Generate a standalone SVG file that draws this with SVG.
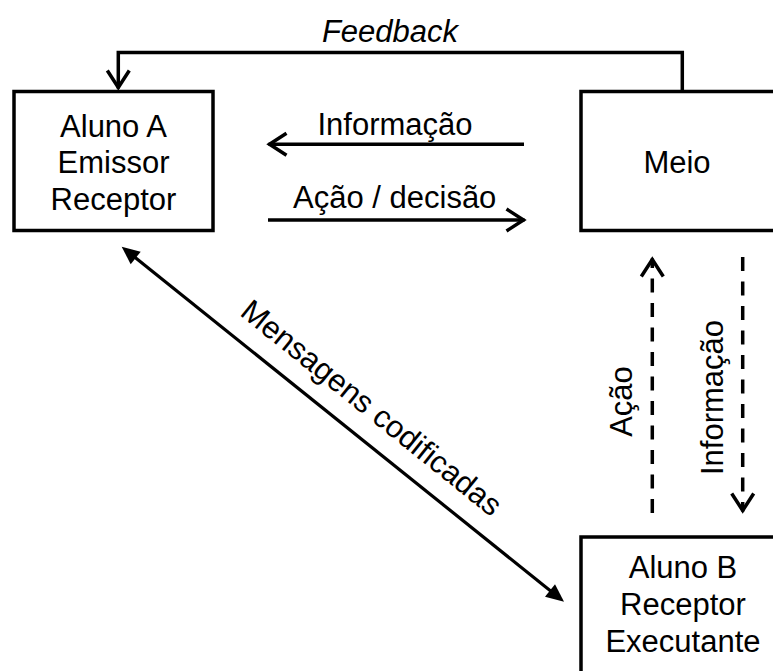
<svg xmlns="http://www.w3.org/2000/svg" width="773" height="671" viewBox="0 0 773 671">
  <style>
    .box { fill: #fff; stroke: #000; stroke-width: 3.5; }
    .lbl { font-family: "Liberation Sans", Arial, sans-serif; font-size: 31px; fill: #000; }
    .mid { text-anchor: middle; }
    .wire { fill: none; stroke: #000; stroke-width: 3.5; }
    .dash { stroke-dasharray: 14 10.5; }
    .thin { stroke-width: 3.2; }
  </style>
  <defs>
    <!-- open V arrowhead -->
    <marker id="open" viewBox="-22 -14 28 28" refX="0" refY="0" markerWidth="28" markerHeight="28" markerUnits="userSpaceOnUse" orient="auto">
      <path d="M-18,-11 L-1,0 L-18,11" fill="none" stroke="#000" stroke-width="3.5"/>
    </marker>
    <!-- filled triangular arrowhead -->
    <marker id="solid" viewBox="-14 -10 26 20" refX="0" refY="0" markerWidth="26" markerHeight="20" markerUnits="userSpaceOnUse" orient="auto-start-reverse">
      <path d="M8,0 L-10,-8 L-10,8 Z" fill="#000"/>
    </marker>
  </defs>

  <g id="connectors">
    <!-- feedback loop from Meio back to Aluno A -->
    <path class="wire" d="M682.3,91.5 V52.5 H118.3 V88.5" marker-end="url(#open)"/>
    <text class="lbl mid" x="390" y="41.7" font-style="italic">Feedback</text>

    <!-- Meio -> Aluno A -->
    <path class="wire" d="M524,144.3 H268.5" marker-end="url(#open)"/>
    <text class="lbl mid" x="395" y="135">Informação</text>

    <!-- Aluno A -> Meio -->
    <path class="wire" d="M268,220 H524.5" marker-end="url(#open)"/>
    <text class="lbl mid" x="394.7" y="208">Ação / decisão</text>

    <!-- Aluno B -> Meio (dashed) -->
    <path class="wire dash" d="M652.3,513 V258.5" marker-end="url(#open)"/>
    <text class="lbl mid" transform="translate(632,401.5) rotate(-90)">Ação</text>

    <!-- Meio -> Aluno B (dashed) -->
    <path class="wire dash" d="M742.7,257 V511.5" marker-end="url(#open)"/>
    <text class="lbl mid" transform="translate(723,397.5) rotate(-90)">Informação</text>

    <!-- Aluno A <-> Aluno B -->
    <path class="wire thin" d="M127.9,251.7 L557.8,596.7" marker-start="url(#solid)" marker-end="url(#solid)"/>
    <text class="lbl mid" transform="translate(365,416) rotate(38.75)">Mensagens codificadas</text>
  </g>

  <g id="aluno-a">
    <rect class="box" x="14" y="91.5" width="199" height="139"/>
    <text class="lbl mid" x="113.5" y="136.7">Aluno A</text>
    <text class="lbl mid" x="113.5" y="173.3">Emissor</text>
    <text class="lbl mid" x="113.5" y="210">Receptor</text>
  </g>

  <g id="meio">
    <rect class="box" x="581" y="91.5" width="196" height="139"/>
    <text class="lbl mid" x="677" y="173.3">Meio</text>
  </g>

  <g id="aluno-b">
    <rect class="box" x="581" y="537" width="204" height="140"/>
    <text class="lbl mid" x="683" y="577.7">Aluno B</text>
    <text class="lbl mid" x="683" y="615">Receptor</text>
    <text class="lbl mid" x="683" y="651.7">Executante</text>
  </g>
</svg>
